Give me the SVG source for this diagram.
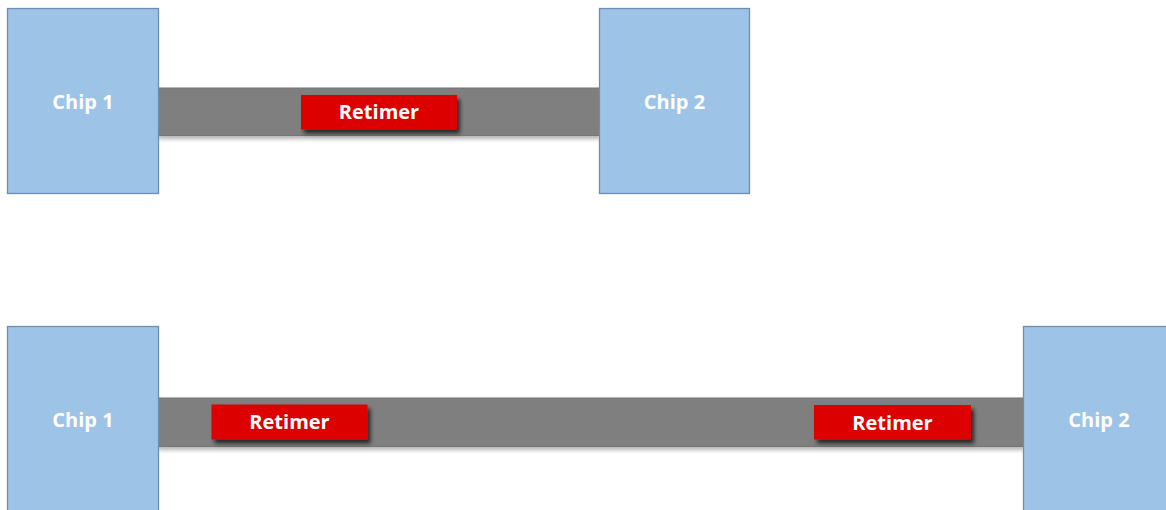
<svg xmlns="http://www.w3.org/2000/svg" width="1166" height="510" viewBox="0 0 1166 510">
<defs>
<filter id="sh" x="-20%" y="-30%" width="150%" height="180%">
<feGaussianBlur in="SourceAlpha" stdDeviation="2"/>
<feOffset dx="3" dy="4" result="b"/>
<feComponentTransfer><feFuncA type="linear" slope="0.7"/></feComponentTransfer>
<feMerge><feMergeNode/><feMergeNode in="SourceGraphic"/></feMerge>
</filter>
<filter id="bsh" x="-5%" y="-30%" width="110%" height="180%">
<feGaussianBlur in="SourceAlpha" stdDeviation="2"/>
<feOffset dx="0" dy="3" result="b"/>
<feComponentTransfer><feFuncA type="linear" slope="0.3"/></feComponentTransfer>
<feMerge><feMergeNode/><feMergeNode in="SourceGraphic"/></feMerge>
</filter>
</defs>
<style>
.chip{fill:#9dc3e6;stroke:#6d8db3;stroke-width:1.3}
.bar{fill:#7f7f7f;stroke:#747474;stroke-width:1}
.ret{fill:#dd0000}
.t{font-family:"Open Sans","Liberation Sans",sans-serif;font-weight:bold;font-size:20px;fill:#fff;text-anchor:middle}
</style>
<rect width="1166" height="510" fill="#fff"/>
<g id="connectors">
<rect class="bar" x="158" y="88" width="442" height="47.5" filter="url(#bsh)"/>
<rect class="bar" x="158" y="398" width="866" height="48.5" filter="url(#bsh)"/>
</g>
<g id="chip1-top"><rect class="chip" x="7.5" y="8.5" width="151" height="185"/><text class="t" x="83" y="109">Chip 1</text></g>
<g id="chip2-top"><rect class="chip" x="599.5" y="8.5" width="150" height="185"/><text class="t" x="674.5" y="109">Chip 2</text></g>
<g id="retimer-top"><rect class="ret" x="301" y="95" width="156" height="34.5" filter="url(#sh)"/><text class="t" x="379" y="119">Retimer</text></g>
<g id="chip1-bottom"><rect class="chip" x="7.5" y="326.5" width="151" height="190"/><text class="t" x="83" y="427">Chip 1</text></g>
<g id="chip2-bottom"><rect class="chip" x="1023.5" y="326.5" width="150" height="190"/><text class="t" x="1099" y="427">Chip 2</text></g>
<g id="retimer-bottom-1"><rect class="ret" x="211.5" y="404.5" width="156" height="35" filter="url(#sh)"/><text class="t" x="289.5" y="429">Retimer</text></g>
<g id="retimer-bottom-2"><rect class="ret" x="814" y="405" width="157" height="34.5" filter="url(#sh)"/><text class="t" x="892.5" y="429.5">Retimer</text></g>
</svg>
